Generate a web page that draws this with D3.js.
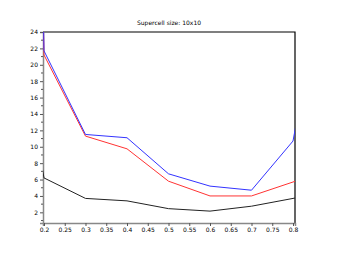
<!DOCTYPE html>
<html>
<head>
<meta charset="utf-8">
<script src="https://cdn.jsdelivr.net/npm/d3@7"></script>
<style>
  body { margin: 0; background: #fff; }
  text { font-family: "DejaVu Sans", sans-serif; }
</style>
</head>
<body>
<svg id="chart"></svg>
<script>
// Donnees
const xs = [0.1, 0.2, 0.3, 0.4, 0.5, 0.6, 0.7, 0.8, 0.9];
const blueVals = [300, 21.7, 11.5, 11.1, 6.7, 5.2, 4.7, 10.7, 38];
const redVals = [280, 21.2, 11.3, 9.75, 5.8, 4.0, 4.0, 5.7, 7.5];
const blackVals = [35, 6.2, 3.7, 3.4, 2.45, 2.15, 2.75, 3.7, 4.7];
const xTicks = [0.2, 0.25, 0.3, 0.35, 0.4, 0.45, 0.5, 0.55, 0.6, 0.65, 0.7, 0.75, 0.8];
const yTicks = [2, 4, 6, 8, 10, 12, 14, 16, 18, 20, 22, 24];
const title = 'Supercell size: 10x10';

const width = 338;
const height = 255;
const margin = { top: 32, right: 43, bottom: 32, left: 43 };

const svg = d3.select('#chart')
    .attr('width', width)
    .attr('height', height);

const x = d3.scaleLinear()
    .domain([0.1976, 0.8048])
    .range([margin.left, width - margin.right]);

const y = d3.scaleLinear()
    .domain([0.7, 24])
    .range([height - margin.bottom, margin.top]);

// Zone de clip
svg.append('clipPath').attr('id', 'clip')
    .append('rect')
    .attr('x', x.range()[0])
    .attr('y', y.range()[1])
    .attr('width', x.range()[1] - x.range()[0])
    .attr('height', y.range()[0] - y.range()[1]);

// Titre
svg.append('text')
    .attr('x', (x.range()[0] + x.range()[1]) / 2)
    .attr('y', 25)
    .attr('text-anchor', 'middle')
    .attr('font-size', 6)
    .text(title);

// Cadre haut et droite
svg.append('path')
    .attr('d', `M${x.range()[0]},${y.range()[1]}H${x.range()[1]}V${y.range()[0]}`)
    .attr('fill', 'none')
    .attr('stroke', '#000')
    .attr('stroke-width', 1.2);

// Axe Y
const yAxis = d3.axisLeft(y)
    .tickValues(yTicks)
    .tickSize(3)
    .tickPadding(2)
    .tickFormat(d3.format('d'));

const gy = svg.append('g')
    .attr('transform', `translate(${x.range()[0]},0)`)
    .call(yAxis);

// Graduations secondaires Y
gy.selectAll('.minor')
    .data(d3.range(1, 24, 2))
    .enter().append('line')
    .attr('class', 'minor')
    .attr('x1', -2).attr('x2', 0)
    .attr('y1', d => y(d)).attr('y2', d => y(d))
    .attr('stroke', '#555');

// Axe X
const xAxis = d3.axisBottom(x)
    .tickValues(xTicks)
    .tickSize(3)
    .tickPadding(2)
    .tickFormat(d => String(+d.toFixed(2)));

const gx = svg.append('g')
    .attr('transform', `translate(0,${y.range()[0]})`)
    .call(xAxis);

[gx, gy].forEach(g => {
    g.select('.domain').attr('stroke', '#888').attr('stroke-width', 1.5);
    g.selectAll('.tick line').attr('stroke', '#555');
    g.selectAll('text').attr('font-size', 6).attr('fill', '#000');
});

// Courbes (par-dessus les axes)
const line = d3.line()
    .x((d, i) => x(xs[i]))
    .y(d => y(d));

const series = [
    { vals: blackVals, color: '#222' },
    { vals: redVals, color: '#ff3333' },
    { vals: blueVals, color: '#3333ff' }
];

svg.append('g').attr('clip-path', 'url(#clip)')
    .selectAll('path')
    .data(series)
    .enter().append('path')
    .attr('d', d => line(d.vals))
    .attr('fill', 'none')
    .attr('stroke', d => d.color)
    .attr('stroke-width', 1);
</script>
</body>
</html>
